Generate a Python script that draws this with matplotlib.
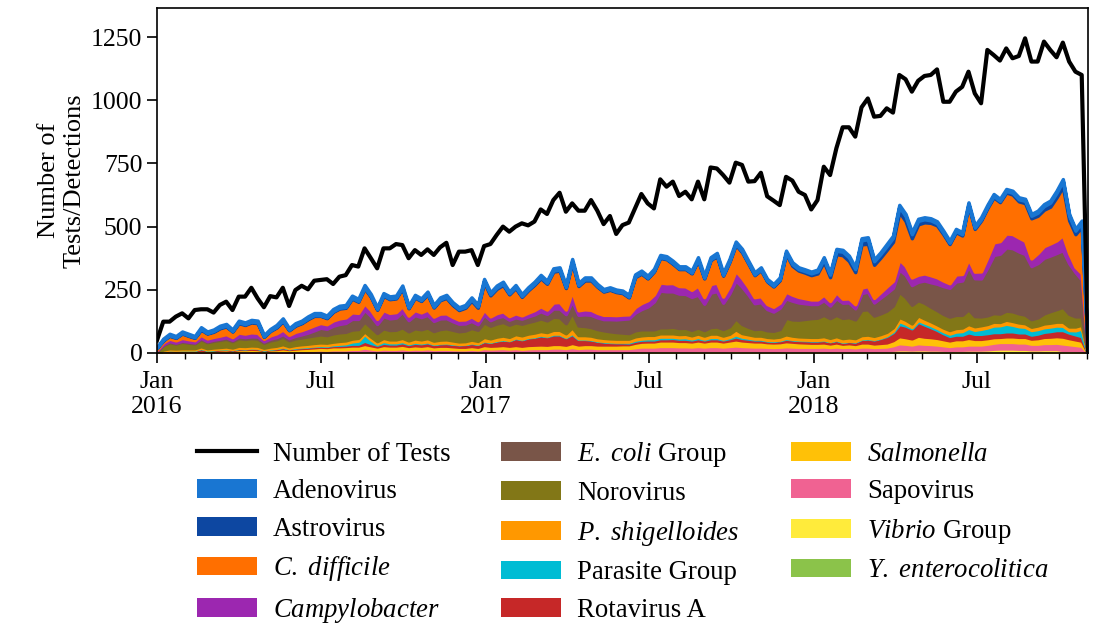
import numpy as np
import pandas as pd
import matplotlib
matplotlib.use("Agg")
import matplotlib.pyplot as plt
import matplotlib.dates as mdates
from matplotlib.lines import Line2D
from matplotlib.patches import Patch

plt.rcParams['font.family'] = ['Liberation Serif', 'DejaVu Serif']
plt.rcParams['mathtext.fontset'] = 'custom'
plt.rcParams['mathtext.rm'] = 'Liberation Serif'
plt.rcParams['mathtext.it'] = 'Liberation Serif:italic'

# weekly counts, Jan 2016 - Nov 2018
n_tests = [50, 124, 124, 144, 157, 137, 170, 173, 173, 160, 190, 203, 170,
           223, 223, 258, 216, 181, 225, 220, 258, 186, 249, 266, 252, 286,
           289, 292, 273, 302, 308, 348, 342, 414, 375, 335, 414, 414, 431,
           427, 375, 407, 388, 410, 388, 418, 436, 348, 401, 401, 407, 348,
           423, 431, 467, 500, 480, 500, 513, 505, 520, 568, 550, 605, 634,
           559, 592, 563, 563, 605, 563, 510, 542, 471, 506, 516, 572, 629,
           592, 572, 687, 658, 678, 621, 638, 608, 678, 608, 734, 730, 704,
           674, 753, 744, 678, 680, 713, 620, 603, 585, 697, 682, 638, 625,
           568, 605, 737, 704, 810, 893, 893, 856, 972, 1007, 935, 938, 968,
           951, 1100, 1083, 1034, 1077, 1096, 1100, 1122, 994, 994, 1034, 1053, 1113,
           1027, 988, 1199, 1179, 1157, 1205, 1166, 1175, 1245, 1153, 1153, 1232, 1199, 1170, 1228, 1153, 1113, 1100,
           12]

adeno = [2, 5, 6, 5, 6, 6, 5, 7, 6, 6, 7, 7, 6,
         7, 7, 7, 7, 5, 6, 7, 8, 6, 7, 7, 8, 8,
         9, 7, 8, 8, 8, 9, 8, 10, 8, 7, 8, 8, 8,
         8, 7, 8, 7, 8, 7, 8, 8, 7, 7, 7, 8, 7,
         8, 7, 8, 8, 7, 8, 7, 8, 8, 9, 8, 9, 9,
         8, 9, 8, 8, 8, 8, 7, 7, 7, 7, 7, 8, 9,
         8, 8, 9, 9, 9, 8, 8, 8, 9, 8, 9, 9, 8,
         9, 9, 9, 8, 8, 8, 7, 7, 7, 8, 8, 7, 7,
         7, 7, 8, 7, 8, 7, 7, 7, 8, 8, 7, 7, 8,
         8, 8, 8, 8, 8, 8, 8, 8, 8, 8, 8, 8, 8,
         8, 8, 8, 8, 8, 8, 8, 8, 8, 7, 8, 8, 8, 8, 8, 7, 7, 8,
         0]
astro = [1, 2, 2, 2, 2, 2, 2, 3, 2, 3, 3, 3, 2,
         3, 3, 3, 3, 2, 2, 3, 3, 2, 3, 3, 3, 3,
         2, 3, 3, 3, 3, 3, 3, 3, 3, 3, 3, 3, 3,
         3, 3, 3, 3, 3, 3, 3, 4, 4, 4, 4, 5, 5,
         6, 5, 5, 5, 4, 4, 4, 4, 4, 4, 4, 4, 4,
         4, 5, 4, 4, 4, 3, 3, 3, 3, 3, 3, 3, 3,
         3, 3, 3, 3, 3, 3, 3, 3, 3, 3, 3, 3, 3,
         3, 4, 4, 3, 3, 3, 3, 3, 4, 5, 6, 6, 6,
         7, 8, 10, 10, 13, 14, 14, 12, 16, 18, 14, 14, 15,
         16, 20, 20, 16, 14, 12, 10, 8, 6, 5, 5, 5, 5,
         5, 5, 5, 5, 5, 6, 7, 8, 9, 10, 12, 14, 16, 18, 22, 18, 14, 16,
         0]
cdiff = [6, 7, 11, 10, 17, 13, 9, 20, 19, 20, 29, 30, 22,
         37, 34, 39, 38, 8, 17, 23, 33, 18, 24, 27, 34, 37,
         28, 24, 34, 39, 38, 54, 44, 59, 51, 36, 56, 54, 54,
         70, 29, 49, 45, 60, 36, 53, 61, 47, 38, 46, 62, 49,
         107, 83, 96, 104, 86, 100, 73, 88, 100, 111, 102, 122, 124,
         85, 112, 96, 114, 116, 103, 92, 99, 91, 85, 67, 118, 116,
         86, 90, 97, 95, 76, 67, 68, 65, 100, 74, 94, 105, 83,
         94, 102, 102, 92, 87, 103, 89, 80, 89, 149, 114, 104, 101,
         96, 103, 130, 94, 150, 172, 148, 127, 171, 167, 131, 136, 144,
         154, 187, 176, 155, 199, 202, 207, 205, 183, 155, 167, 152, 210,
         169, 201, 194, 178, 154, 162, 156, 143, 149, 159, 147, 144, 145, 170, 191, 130, 129, 184,
         0]
campy = [3, 8, 10, 9, 11, 10, 9, 12, 11, 11, 12, 13, 11,
         15, 14, 16, 15, 10, 13, 15, 18, 13, 16, 17, 19, 20,
         19, 18, 21, 22, 22, 26, 24, 26, 24, 20, 24, 22, 22,
         22, 18, 20, 19, 21, 17, 19, 19, 17, 16, 16, 18, 16,
         20, 15, 17, 18, 14, 16, 13, 15, 17, 20, 17, 24, 26,
         18, 40, 18, 20, 20, 18, 17, 17, 17, 17, 16, 22, 24,
         25, 28, 32, 32, 33, 30, 30, 28, 36, 26, 34, 34, 24,
         30, 38, 34, 30, 24, 24, 20, 19, 20, 27, 24, 22, 20,
         18, 18, 22, 18, 24, 16, 16, 16, 22, 22, 18, 22, 26,
         28, 40, 36, 30, 28, 28, 28, 26, 22, 18, 28, 26, 28,
         26, 28, 40, 50, 50, 55, 56, 55, 52, 30, 40, 46, 48, 50, 60, 40, 21, 26,
         0]
ecoli = [1, 3, 4, 3, 4, 4, 3, 5, 4, 5, 5, 6, 5,
         7, 7, 7, 8, 5, 7, 8, 10, 8, 10, 12, 15, 20,
         26, 25, 30, 33, 35, 42, 40, 46, 45, 36, 48, 46, 48,
         62, 44, 52, 48, 50, 40, 42, 40, 34, 30, 28, 28, 22,
         30, 22, 24, 24, 20, 20, 20, 22, 24, 28, 26, 32, 34,
         36, 44, 42, 46, 48, 46, 44, 48, 50, 54, 58, 70, 80,
         90, 110, 145, 142, 140, 136, 134, 130, 130, 104, 136, 140, 104,
         130, 150, 148, 128, 102, 104, 84, 76, 84, 76, 74, 68, 62,
         56, 54, 58, 50, 66, 60, 58, 44, 66, 70, 52, 62, 70,
         70, 88, 88, 78, 73, 88, 96, 104, 110, 114, 132, 136, 172,
         150, 150, 190, 230, 237, 250, 250, 245, 240, 210, 215, 220, 220, 222, 224, 200, 175, 145,
         0]
noro = [6, 18, 24, 20, 26, 22, 20, 28, 24, 26, 28, 30, 25,
        30, 28, 29, 28, 20, 24, 26, 30, 24, 26, 27, 29, 30,
        32, 30, 33, 34, 34, 36, 35, 39, 37, 32, 38, 37, 38,
        42, 36, 40, 40, 42, 38, 42, 44, 42, 40, 42, 46, 44,
        58, 50, 52, 54, 48, 46, 46, 46, 48, 50, 46, 52, 50,
        40, 60, 38, 36, 34, 32, 30, 28, 26, 24, 22, 24, 24,
        22, 22, 24, 24, 26, 24, 24, 22, 24, 22, 26, 28, 26,
        30, 44, 36, 30, 26, 28, 26, 26, 30, 66, 64, 66, 70,
        74, 76, 84, 78, 84, 80, 80, 74, 100, 100, 80, 82, 84,
        86, 100, 90, 74, 60, 62, 58, 56, 54, 53, 52, 50, 58,
        40, 35, 34, 34, 33, 36, 38, 36, 34, 30, 32, 40, 46, 50, 59, 50, 40, 33,
        0]
pshig = [1, 4, 5, 5, 5, 5, 5, 6, 5, 6, 6, 7, 6,
         8, 8, 8, 8, 6, 7, 8, 9, 7, 8, 9, 9, 10,
         10, 10, 10, 11, 11, 11, 11, 10, 11, 10, 12, 11, 11,
         12, 11, 13, 12, 13, 11, 12, 12, 11, 10, 10, 11, 10,
         14, 12, 13, 13, 12, 13, 13, 13, 14, 14, 14, 15, 15,
         13, 22, 13, 13, 13, 12, 12, 12, 12, 12, 12, 13, 13,
         13, 13, 13, 13, 13, 13, 13, 12, 13, 12, 13, 13, 12,
         13, 20, 14, 13, 12, 12, 12, 11, 12, 14, 13, 12, 12,
         12, 12, 13, 12, 13, 13, 13, 12, 13, 13, 12, 13, 13,
         14, 16, 15, 14, 18, 16, 15, 14, 14, 14, 14, 14, 15,
         14, 14, 14, 15, 13, 16, 15, 15, 14, 13, 14, 15, 15, 15, 16, 14, 15, 15,
         0]
parasite = [0, 0, 1, 1, 1, 1, 1, 1, 1, 1, 1, 1, 1,
            1, 1, 1, 1, 1, 1, 1, 2, 1, 2, 2, 2, 2,
            2, 2, 3, 4, 5, 9, 12, 27, 14, 4, 7, 5, 5,
            5, 3, 4, 3, 3, 2, 2, 2, 2, 1, 1, 2, 1,
            2, 1, 2, 2, 1, 2, 2, 2, 2, 3, 2, 3, 3,
            2, 4, 2, 2, 2, 2, 2, 2, 2, 2, 3, 4, 4,
            5, 5, 6, 6, 5, 5, 6, 4, 5, 3, 5, 5, 3,
            4, 8, 5, 4, 3, 3, 2, 2, 2, 3, 2, 2, 2,
            2, 2, 2, 1, 2, 1, 1, 1, 2, 2, 2, 2, 3,
            5, 12, 8, 5, 7, 8, 8, 8, 8, 9, 12, 14, 18,
            16, 20, 22, 26, 27, 30, 26, 24, 22, 18, 18, 18, 18, 18, 17, 10, 16, 30,
            0]
rota = [0, 1, 2, 1, 2, 2, 2, 7, 2, 3, 3, 3, 3,
        4, 3, 4, 4, 2, 3, 4, 5, 3, 4, 4, 5, 5,
        5, 5, 5, 6, 6, 7, 7, 13, 9, 7, 9, 8, 8,
        10, 8, 10, 10, 11, 9, 10, 11, 10, 10, 11, 12, 12,
        16, 16, 20, 22, 22, 28, 26, 30, 32, 36, 34, 38, 38,
        30, 36, 22, 20, 18, 15, 12, 10, 9, 8, 7, 8, 8,
        8, 8, 9, 9, 10, 9, 9, 8, 9, 8, 9, 9, 8,
        9, 12, 10, 9, 8, 8, 7, 7, 8, 10, 9, 9, 9,
        9, 9, 10, 9, 10, 8, 9, 10, 14, 16, 16, 20, 26,
        32, 48, 46, 40, 55, 48, 40, 32, 24, 18, 18, 18, 22,
        20, 20, 20, 20, 19, 20, 20, 18, 18, 16, 18, 20, 22, 24, 26, 22, 20, 18,
        0]
salm = [1, 3, 4, 4, 4, 4, 4, 5, 4, 5, 5, 6, 5,
        7, 7, 7, 7, 5, 6, 7, 8, 7, 8, 9, 10, 10,
        11, 11, 12, 12, 13, 13, 13, 14, 13, 11, 14, 13, 13,
        14, 12, 13, 12, 13, 11, 12, 12, 11, 10, 10, 11, 10,
        12, 11, 11, 12, 11, 12, 12, 13, 13, 14, 13, 14, 14,
        13, 16, 14, 14, 14, 14, 14, 14, 14, 15, 15, 18, 19,
        20, 20, 22, 22, 22, 21, 21, 20, 22, 20, 22, 22, 20,
        22, 24, 22, 21, 20, 20, 18, 18, 18, 20, 19, 18, 17,
        16, 16, 16, 14, 16, 13, 14, 13, 16, 16, 14, 15, 16,
        20, 28, 26, 24, 30, 28, 27, 26, 24, 22, 24, 24, 26,
        22, 22, 22, 22, 20, 22, 22, 22, 22, 20, 22, 24, 25, 26, 27, 24, 22, 20,
        0]
sapo = [1, 3, 4, 4, 4, 4, 4, 5, 4, 4, 5, 5, 4,
        5, 5, 6, 5, 4, 5, 5, 6, 5, 6, 6, 6, 7,
        7, 7, 8, 8, 8, 9, 9, 12, 10, 8, 10, 9, 9,
        11, 9, 10, 10, 11, 9, 10, 10, 9, 9, 9, 10, 9,
        12, 11, 12, 12, 11, 12, 10, 11, 12, 12, 12, 13, 13,
        12, 14, 12, 13, 13, 12, 12, 12, 12, 12, 12, 14, 15,
        15, 15, 16, 16, 16, 16, 16, 15, 16, 15, 16, 16, 15,
        16, 17, 16, 15, 15, 15, 14, 14, 14, 15, 15, 14, 14,
        14, 14, 15, 14, 15, 14, 14, 13, 15, 15, 14, 14, 15,
        18, 24, 22, 20, 24, 22, 22, 20, 18, 16, 18, 18, 20,
        20, 20, 22, 24, 26, 26, 26, 25, 25, 22, 22, 24, 24, 25, 26, 22, 20, 18,
        0]
vibrio = [1, 2, 2, 2, 2, 2, 2, 2, 2, 2, 3, 3, 2,
          3, 3, 3, 3, 2, 3, 3, 4, 3, 3, 4, 4, 4,
          5, 4, 5, 5, 5, 6, 6, 8, 6, 5, 6, 6, 6,
          6, 5, 6, 5, 6, 5, 5, 5, 5, 4, 4, 5, 4,
          6, 5, 5, 6, 5, 6, 5, 6, 6, 6, 6, 7, 7,
          6, 8, 6, 7, 7, 6, 6, 6, 6, 6, 6, 7, 8,
          8, 8, 9, 9, 9, 8, 8, 8, 9, 8, 9, 9, 8,
          9, 10, 9, 9, 8, 8, 8, 7, 8, 9, 8, 8, 8,
          8, 8, 8, 7, 8, 8, 8, 7, 8, 8, 7, 8, 8,
          10, 12, 12, 11, 12, 12, 11, 11, 10, 9, 10, 10, 11,
          11, 11, 12, 13, 14, 14, 14, 13, 13, 12, 12, 12, 12, 12, 9, 10, 9, 8,
          0]
yent = [0, 1, 1, 1, 1, 1, 1, 1, 1, 1, 1, 1, 1,
        1, 1, 1, 1, 1, 1, 1, 1, 1, 1, 1, 1, 2,
        2, 2, 2, 2, 2, 2, 2, 2, 2, 2, 2, 2, 2,
        2, 2, 2, 2, 2, 2, 2, 2, 2, 2, 2, 2, 2,
        2, 2, 2, 2, 2, 2, 2, 2, 2, 2, 2, 2, 2,
        2, 2, 2, 2, 2, 2, 2, 2, 2, 2, 2, 2, 3,
        3, 3, 3, 3, 3, 3, 3, 3, 3, 3, 3, 3, 3,
        3, 3, 3, 3, 3, 3, 3, 3, 3, 3, 3, 3, 3,
        3, 3, 3, 3, 3, 2, 3, 3, 3, 3, 3, 3, 3,
        3, 3, 3, 3, 3, 3, 3, 3, 3, 3, 3, 3, 3,
        3, 3, 3, 4, 4, 4, 4, 4, 4, 3, 3, 4, 4, 4, 3, 3, 3, 3,
        0]

weeks = pd.date_range("2016-01-01", periods=len(n_tests), freq="7D")

# legend order (top of the stack first)
labels = ["Adenovirus", "Astrovirus", r"$C.\ difficile$", r"$Campylobacter$",
          r"$E.\ coli$ Group", "Norovirus", r"$P.\ shigelloides$", "Parasite Group",
          "Rotavirus A", r"$Salmonella$", "Sapovirus", r"$Vibrio$ Group",
          r"$Y.\ enterocolitica$"]
series = [adeno, astro, cdiff, campy, ecoli, noro, pshig, parasite,
          rota, salm, sapo, vibrio, yent]
colors = ["#1976D2", "#0D47A1", "#FF6F00", "#9C27B0", "#795548", "#827717",
          "#FF9800", "#00BCD4", "#C62828", "#FFC107", "#F06292", "#FFEB3B",
          "#8BC34A"]

fig = plt.figure(figsize=(10.97, 6.24), dpi=100)
ax = fig.add_axes([0.1431, 0.4343, 0.8487, 0.5529])

polys = ax.stackplot(weeks, *series[::-1], colors=colors[::-1])
for p, c in zip(polys, colors[::-1]):
    p.set_edgecolor(c)
    p.set_linewidth(2.5)
ax.plot(weeks, n_tests, color="black", lw=3)

ax.set_xlim(weeks[0], weeks[-1])
ax.set_ylim(0, 1365)
ax.set_yticks([0, 250, 500, 750, 1000, 1250])

ax.xaxis.set_major_locator(mdates.MonthLocator(bymonth=[1, 7]))
ax.xaxis.set_minor_locator(mdates.MonthLocator())


def fmt_date(x, pos=None):
    d = mdates.num2date(x)
    if d.month == 1:
        return "Jan\n%d" % d.year
    return d.strftime("%b")


ax.xaxis.set_major_formatter(plt.FuncFormatter(fmt_date))
ax.tick_params(axis="both", which="major", labelsize=18.5, length=7, width=1.2)
ax.tick_params(axis="x", which="major", pad=6)
ax.tick_params(axis="x", which="minor", length=4, width=1.0)
for s in ax.spines.values():
    s.set_linewidth(1.2)

ax.set_ylabel("Number of\nTests/Detections", fontsize=19)

handles = [Line2D([0], [0], color="black", lw=3)]
handles += [Patch(facecolor=c) for c in colors]
ax.legend(handles, ["Number of Tests"] + labels, ncol=3, loc="upper center",
          bbox_to_anchor=(0.5, -0.181), frameon=False, fontsize=19.3,
          handlelength=2.24, handletextpad=0.6, columnspacing=1.9,
          labelspacing=0.47)

fig.savefig("out.png", dpi=100)
